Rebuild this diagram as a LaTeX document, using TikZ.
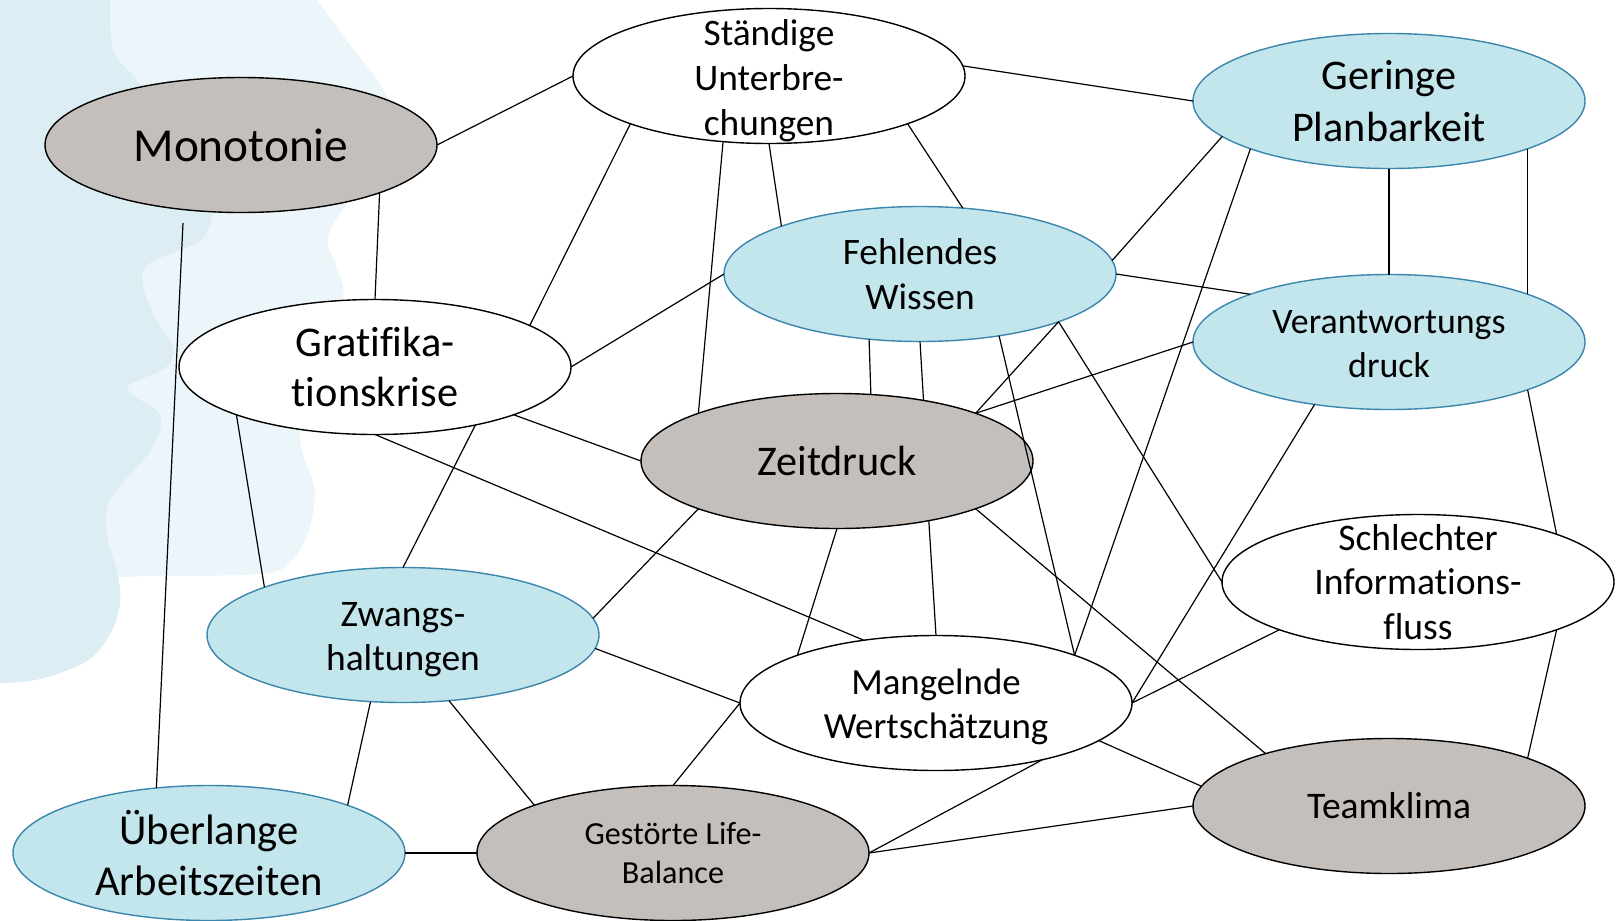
\documentclass[tikz,border=0pt]{standalone}
\usepackage{fontspec}
\setmainfont{Carlito}[Ligatures=NoCommon]
\usetikzlibrary{shapes.geometric}
\definecolor{nodegray}{HTML}{C4BFBB}
\definecolor{nodeblue}{HTML}{C3E5EC}
\definecolor{blueedge}{HTML}{3B86AC}
\definecolor{bgdark}{HTML}{DCEDF4}
\definecolor{bglight}{HTML}{ECF5F9}
\pgfdeclarelayer{bg}
\pgfsetlayers{bg,main}
\newcommand{\fs}[2]{\fontsize{#1}{#2}\selectfont}
\begin{document}
\begin{tikzpicture}[x=1bp,y=-1bp,
  el/.style={ellipse, minimum width=392bp, minimum height=135bp, inner sep=0pt, outer sep=0pt, line width=1.4bp},
  graynode/.style={el, draw=black, fill=nodegray},
  bluenode/.style={el, draw=blueedge, fill=nodeblue},
  whitenode/.style={el, draw=black, fill=white},
  txt/.style={align=center, inner sep=0pt, text=black},
  link/.style={line width=1.2bp, draw=black}]
\useasboundingbox (0,0) rectangle (1616,920);

% background shapes
\begin{pgfonlayer}{bg}
\fill[bglight] (0,0) -- (317,0) -- plot[smooth, tension=0.6] coordinates {(317,0) (350,45) (383,89) (400,140) (350,200) (328,237) (337,268) (343,300) (322,370) (300,433) (313,482) (315,500) (307,536) (290,562) (260,574) (150,576) (110,578)} -- (0,578) -- cycle;
\fill[bgdark] (0,0) -- (110,0) -- plot[smooth, tension=0.6] coordinates {(110,0) (113,49) (133,76) (185,135) (215,200) (213,214) (200,241) (150,263) (143,286) (157,321) (173,348) (165,368) (127,388) (157,411) (160,429) (147,455) (110,500) (107,536) (117,571) (120,603) (110,634) (87,661) (40,679) (0,683)} -- cycle;
\end{pgfonlayer}

% nodes
\node[graynode]  (M) at (241,145) {};
\node[whitenode] (S) at (769,76) {};
\node[bluenode]  (G) at (1389,101) {};
\node[bluenode]  (F) at (920,274) {};
\node[whitenode] (R) at (375,367) {};
\node[bluenode]  (V) at (1389,342) {};
\node[graynode]  (Z) at (837,461) {};
\node[whitenode] (I) at (1418,582) {};
\node[bluenode]  (H) at (403,635) {};
\node[whitenode] (W) at (936,703) {};
\node[bluenode]  (U) at (209,853) {};
\node[graynode]  (L) at (673,853) {};
\node[graynode]  (T) at (1389,806) {};

\node[txt, font=\fs{47.5}{57}] (Mt) at (M) {Monotonie};
\node[txt, font=\fs{37.5}{45}, yshift=-5bp] (St) at (S) {Ständige\\Unterbre-\\chungen};
\node[txt, font=\fs{42.4}{52}] (Gt) at (G) {Geringe\\Planbarkeit};
\node[txt, font=\fs{37.5}{45}] (Ft) at (F) {Fehlendes\\Wissen};
\node[txt, font=\fs{42.5}{51}] (Rt) at (R) {Gratifika-\\tionskrise};
\node[txt, font=\fs{36}{44}, yshift=-2bp] (Vt) at (V) {Verantwortungs\\druck};
\node[txt, font=\fs{42.4}{51}] (Zt) at (Z) {Zeitdruck};
\node[txt, font=\fs{37.7}{45}] (It) at (I) {Schlechter\\Informations-\\fluss};
\node[txt, font=\fs{37.6}{44}, yshift=-5bp] (Ht) at (H) {Zwangs-\\haltungen};
\node[txt, font=\fs{37}{44.5}, yshift=-4bp] (Wt) at (W) {Mangelnde\\Wertschätzung};
\node[txt, font=\fs{42.8}{51.5}] (Ut) at (U) {Überlange\\Arbeitszeiten};
\node[txt, font=\fs{32.3}{38.5}] (Lt) at (L) {Gestörte Life-\\Balance};
\node[txt, font=\fs{37.7}{45}] (Tt) at (T) {Teamklima};

\coordinate (m1) at (183,223);

% connectors
\draw[link] (M.east) -- (S.west);
\draw[link] (M.south east) -- (R.north);
\draw[link] (m1) -- (U.129.6);
\draw[link] (S.south west) -- (R.15.5);
\draw[link] (S.235) -- (Z.north west);
\draw[link] (S.south) -- (F.north west);
\draw[link] (S.south east) -- (F.57);
\draw[link] (S.3) -- (G.west);
\draw[link] (G.192) -- (F.4);
\draw[link] (G.south west) -- (W.north east);
\draw[link] (G.south) -- (V.north);
\draw[link] (G.south east) -- (V.north east);
\draw[link] (F.east) -- (V.north west);
\draw[link] (F.west) -- (R.east);
\draw[link] (F.232.6) -- (Z.63.8);
\draw[link] (F.south) -- (Z.35);
\draw[link] (F.-38.4) -- (W.north east);
\draw[link] (F.south east) -- (I.west);
\draw[link] (Z.north east) -- (F.south east);
\draw[link] (Z.north east) -- (V.west);
\draw[link] (R.south east) -- (Z.west);
\draw[link] (R.south west) -- (H.north west);
\draw[link] (R.south) -- (W.139.7);
\draw[link] (R.-30.2) -- (H.north);
\draw[link] (Z.south west) -- (H.5);
\draw[link] (Z.south) -- (W.north west);
\draw[link] (Z.-33.4) -- (W.north);
\draw[link] (Z.south east) -- (T.157.1);
\draw[link] (V.-140) -- (W.east);
\draw[link] (I.south west) -- (W.east);
\draw[link] (W.-13.4) -- (T.174);
\draw[link] (W.-28.8) -- (L.east);
\draw[link] (W.west) -- (L.north);
\draw[link] (H.-4) -- (W.west);
\draw[link] (H.-55.5) -- (L.north west);
\draw[link] (H.-116) -- (U.north east);
\draw[link] (U.east) -- (L.west);
\draw[link] (L.east) -- (T.west);
\draw[link] (I.south east) -- (T.north east);
\draw[link] (V.south east) -- (I.north east);
\end{tikzpicture}
\end{document}
